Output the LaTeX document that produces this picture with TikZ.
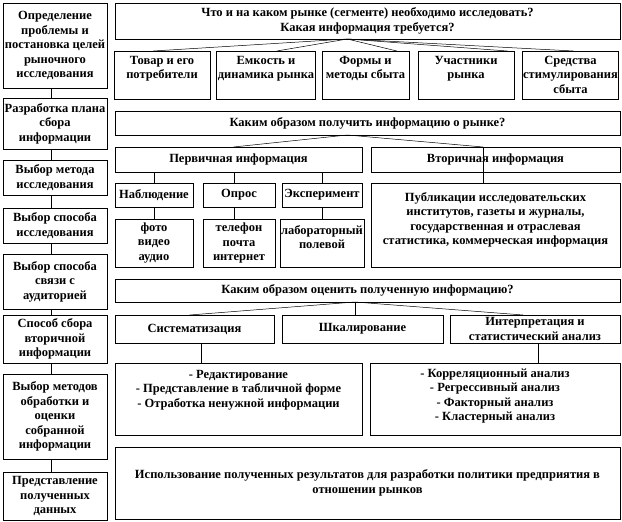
\documentclass[tikz,border=0pt]{standalone}
\usepackage{fontspec}
\setmainfont{Liberation Serif}
\usetikzlibrary{calc,positioning}

\begin{document}
\begin{tikzpicture}[x=1pt,y=-1pt,
    box/.style={draw,line width=.8pt,inner sep=1pt,outer sep=0pt,align=center,
      font=\bfseries\fontsize{12.5}{14.5}\selectfont},
    topcell/.style 2 args={minimum height=#1,text height=#2,text depth=#1-#2-2},
    link/.style={line width=.5pt}]
  \useasboundingbox (0,0) rectangle (622,522);

  % steps of the research (left column)
  \foreach \n/\ya/\yb/\txt in {
    1/3/88/{Определение\\проблемы и\\постановка целей\\рыночного\\исследования},
    2/98/149/{Разработка плана\\сбора\\информации},
    3/160/195/{Выбор метода\\исследования},
    4/208/243/{Выбор способа\\исследования},
    5/254/309/{Выбор способа\\связи с\\аудиторией},
    6/315/363/{Способ сбора\\вторичной\\информации},
    7/374/459/{Выбор методов\\обработки и\\оценки\\собранной\\информации},
    8/472/520/{Представление\\полученных\\данных}}
    \node[box,minimum width=104,minimum height=\yb-\ya] (l\n) at (55,{(\ya+\yb)/2}) {\txt};
  \foreach \a/\b in {1/2,2/3,3/4,4/5,5/6,6/7,7/8}
    \draw[link] ([xshift=-4]l\a.south) -- ([xshift=-4]l\b.north);

  % what to research
  \node[box,minimum width=505,minimum height=36] (what) at (367.5,21)
    {Что и на каком рынке (сегменте) необходимо исследовать?\\Какая информация требуется?};
  \node[box,minimum width=96,topcell={48}{26.5}] (good) at (162,75) {Товар и его\\потребители};
  \node[box,minimum width=96,topcell={48}{26.5}] (cap) at (266,75) {Емкость и\\динамика рынка};
  \node[box,minimum width=87,topcell={48}{26.5}] (form) at (365.5,75) {Формы и\\методы сбыта};
  \node[box,minimum width=96,topcell={48}{26.5}] (part) at (466,75) {Участники\\рынка};
  \node[box,minimum width=95,topcell={48}{41}] (prom) at (570.5,75) {Средства\\стимулирования\\сбыта};
  \coordinate (w0) at ($(what.south west)!.46!(what.south east)$);
  \foreach \m/\f in {good/.41,cap/.61,form/.86,part/.93,prom/.53}
    \draw[link] (w0) -- ($(\m.north west)!\f!(\m.north east)$);

  % how to get the information
  \node[box,minimum width=505,minimum height=24] (how) at (367.5,123)
    {Каким образом получить информацию о рынке?};
  \node[box,minimum width=247,minimum height=25] (prim) at (238.5,159.5) {Первичная информация};
  \node[box,minimum width=249,minimum height=25] (sec) at (495.5,159.5) {Вторичная информация};
  \coordinate (h0) at ($(how.south west)!.46!(how.south east)$);
  \draw[link] (h0) -- ($(prim.north west)!.48!(prim.north east)$);
  \draw[link] (h0) -- ($(sec.north west)!.45!(sec.north east)$);

  \node[box,minimum width=78,minimum height=24] (obs) at (154,195) {Наблюдение};
  \node[box,minimum width=72,minimum height=24] (ask) at (239,195) {Опрос};
  \node[box,minimum width=80,minimum height=24] (exp) at (322,195) {Эксперимент};
  \node[box,minimum width=78,minimum height=48] (photo) at (154,243) {фото\\видео\\аудио};
  \node[box,minimum width=72,minimum height=48] (phone) at (239,243) {телефон\\почта\\интернет};
  \node[box,minimum width=80,topcell={48}{28.5}] (lab) at (322,243) {лабораторный\\полевой};
  \node[box,minimum width=249,topcell={84}{60.5}] (pub) at (495.5,225)
    {Публикации исследовательских\\институтов,  газеты и журналы,\\государственная и отраслевая\\статистика,  коммерческая информация};
  \foreach \u/\d/\dx in {obs/photo/0,ask/phone/-5,exp/lab/0,sec/pub/-12}{
    \draw[link] ([xshift=\dx]\u.north |- prim.south) -- ([xshift=\dx]\u.north);
    \draw[link] ([xshift=\dx]\u.south) -- ([xshift=\dx]\d.north);
  }

  % how to evaluate the information
  \node[box,minimum width=505,minimum height=23] (eval) at (367.5,290.5)
    {Каким образом оценить полученную информацию?};
  \node[box,minimum width=159,minimum height=28] (sys) at (194.5,329) {Систематизация};
  \node[box,minimum width=161,minimum height=28] (scale) at (362.5,329) {Шкалирование};
  \node[box,minimum width=170,minimum height=28] (interp) at (535,329)
    {Интерпретация и\\статистический  анализ};
  \coordinate (e0) at ($(eval.south west)!.475!(eval.south east)$);
  \draw[link] (e0) -- ($(sys.north west)!.47!(sys.north east)$);
  \draw[link] (e0) -- (e0 |- scale.north);
  \draw[link] (e0) -- ($(interp.north west)!.43!(interp.north east)$);

  \node[box,minimum width=247,topcell={72}{43}] (edit) at (238.5,399)
    {- Редактирование\\- Представление  в табличной форме\\- Отработка ненужной информации};
  \node[box,minimum width=250,topcell={72}{56.5}] (stat) at (495,399)
    {- Корреляционный анализ\\- Регрессивный анализ\\- Факторный  анализ\\- Кластерный анализ};
  \draw[link] ([xshift=7]sys.south) -- ([xshift=7]sys.south |- edit.north);
  \draw[link] ([xshift=3]interp.south) -- ([xshift=3]interp.south |- stat.north);

  % use of the results
  \node[box,minimum width=505,minimum height=72] (use) at (367.5,483)
    {Использование полученных результатов для разработки политики предприятия в\\отношении рынков};
\end{tikzpicture}
\end{document}
